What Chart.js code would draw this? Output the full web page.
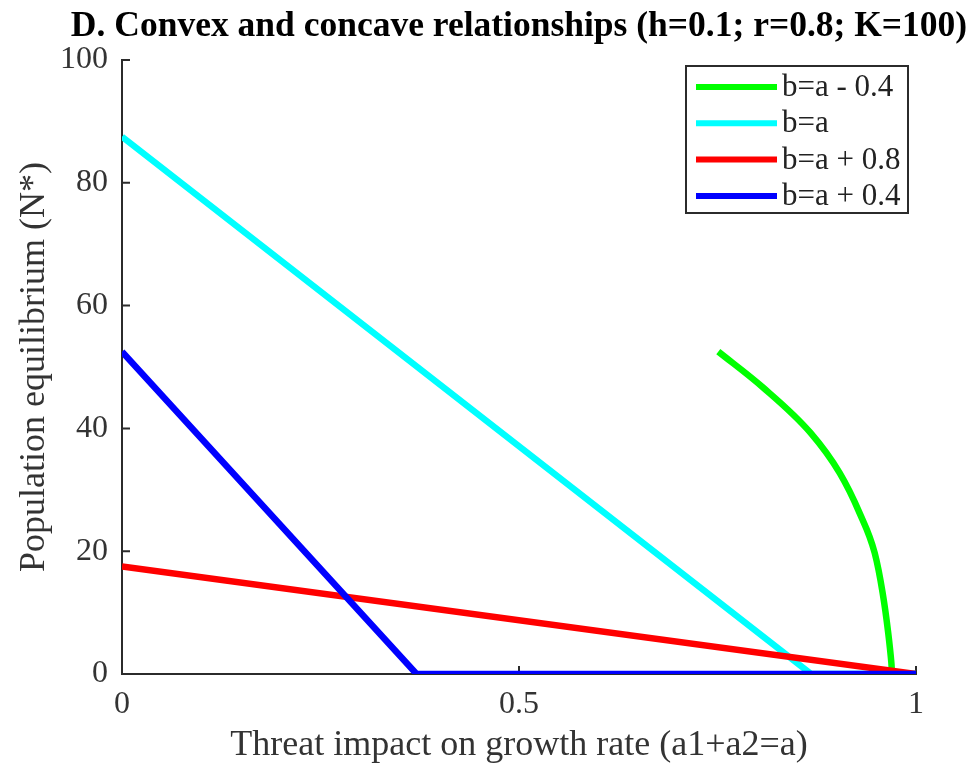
<!DOCTYPE html>
<html>
<head>
<meta charset="utf-8">
<title>Convex and concave relationships</title>
<script src="https://cdn.jsdelivr.net/npm/chart.js@4.4.1/dist/chart.umd.min.js"></script>
<style>
  html, body { margin: 0; padding: 0; background: #fff; }
</style>
</head>
<body>
<canvas id="equilibriumChart" width="972" height="771"></canvas>
<script>
// threat impact a (x) and population equilibrium N* (y) for each b curve
const greenA = [0.751, 0.807, 0.867, 0.904, 0.929, 0.948, 0.958, 0.965, 0.969, 0.970, 1.0];
const greenN = [52.5, 46.7, 39.3, 32.7, 26.2, 19.7, 13.2, 6.7, 1.8, 0, 0];

const cyanA = [0, 0.868, 1.0];
const cyanN = [87.5, 0, 0];

const redA = [0, 1.0];
const redN = [17.5, 0];

const blueA = [0, 0.371, 1.0];
const blueN = [52.5, 0, 0];

const seriesLabels = ['b=a - 0.4', 'b=a', 'b=a + 0.8', 'b=a + 0.4'];
const seriesColors = ['#00ff00', '#00ffff', '#ff0000', '#0000ff'];

const xTicks = [0, 0.5, 1];
const yTicks = [0, 20, 40, 60, 80, 100];

const TITLE = 'D. Convex and concave relationships (h=0.1; r=0.8; K=100)';
const FONT = '"Liberation Serif", "Times New Roman", serif';
const AXIS_COLOR = '#2b2b2b';
const TICK_LEN = 8;

function toPoints(xs, ys) {
  return xs.map((x, i) => ({ x: x, y: ys[i] }));
}

// title centred over the axes rather than the whole canvas
const axesTitle = {
  id: 'axesTitle',
  afterDraw(chart) {
    const { ctx, chartArea } = chart;
    ctx.save();
    ctx.font = 'bold 35.5px ' + FONT;
    ctx.fillStyle = '#000';
    ctx.textAlign = 'center';
    ctx.textBaseline = 'middle';
    ctx.fillText(TITLE, (chartArea.left + chartArea.right) / 2, 27);
    ctx.restore();
  }
};

// MATLAB-style ticks pointing into the plot
const inwardTicks = {
  id: 'inwardTicks',
  beforeDatasetsDraw(chart) {
    const { ctx, chartArea, scales } = chart;
    ctx.save();
    ctx.strokeStyle = AXIS_COLOR;
    ctx.lineWidth = 2;
    ctx.beginPath();
    yTicks.forEach(v => {
      const py = scales.y.getPixelForValue(v);
      ctx.moveTo(chartArea.left, py);
      ctx.lineTo(chartArea.left + TICK_LEN, py);
    });
    xTicks.forEach(v => {
      const px = scales.x.getPixelForValue(v);
      ctx.moveTo(px, chartArea.bottom);
      ctx.lineTo(px, chartArea.bottom - TICK_LEN);
    });
    ctx.stroke();
    ctx.restore();
  }
};

// boxed legend in the upper right corner
const boxLegend = {
  id: 'boxLegend',
  afterDraw(chart) {
    const { ctx, chartArea } = chart;
    const w = 222, h = 147, rowH = 36.3;
    const left = chartArea.right - 8 - w;
    const top = chartArea.top + 6;
    ctx.save();
    ctx.fillStyle = '#fff';
    ctx.fillRect(left, top, w, h);
    ctx.strokeStyle = AXIS_COLOR;
    ctx.lineWidth = 2;
    ctx.strokeRect(left, top, w, h);
    ctx.font = '31px ' + FONT;
    ctx.textBaseline = 'middle';
    ctx.fillStyle = '#222';
    chart.data.datasets.forEach((ds, i) => {
      const cy = top + 21 + i * rowH;
      ctx.strokeStyle = ds.borderColor;
      ctx.lineWidth = 6;
      ctx.beginPath();
      ctx.moveTo(left + 10, cy);
      ctx.lineTo(left + 91, cy);
      ctx.stroke();
      ctx.fillText(ds.label, left + 96, cy + 1);
    });
    ctx.restore();
  }
};

const allSeries = [
  toPoints(greenA, greenN),
  toPoints(cyanA, cyanN),
  toPoints(redA, redN),
  toPoints(blueA, blueN)
];

// higher order is drawn first, so blue ends up on top
const drawOrder = [3, 2, 1, 0];

const datasets = allSeries.map((pts, i) => ({
  label: seriesLabels[i],
  data: pts,
  borderColor: seriesColors[i],
  backgroundColor: seriesColors[i],
  borderWidth: 6.5,
  pointRadius: 0,
  cubicInterpolationMode: i === 0 ? 'monotone' : 'default',
  tension: 0,
  fill: false,
  order: drawOrder[i]
}));

new Chart(document.getElementById('equilibriumChart'), {
  type: 'line',
  data: { datasets: datasets },
  options: {
    responsive: false,
    animation: false,
    layout: { padding: { left: 0, right: 56, top: 60, bottom: 0 } },
    plugins: {
      legend: { display: false },
      tooltip: { enabled: false },
      title: { display: false }
    },
    scales: {
      x: {
        type: 'linear',
        min: 0,
        max: 1,
        afterFit(scale) { scale.height = 97; },
        afterBuildTicks(scale) { scale.ticks = xTicks.map(v => ({ value: v })); },
        grid: { display: true, drawOnChartArea: false, drawTicks: false },
        border: { display: true, color: AXIS_COLOR, width: 2 },
        ticks: {
          padding: 11,
          color: '#333',
          font: { family: FONT, size: 32 },
          maxRotation: 0,
          callback: v => String(v)
        },
        title: {
          display: true,
          text: 'Threat impact on growth rate (a1+a2=a)',
          color: '#333',
          font: { family: FONT, size: 36 },
          padding: { top: 0, bottom: 4 }
        }
      },
      y: {
        type: 'linear',
        min: 0,
        max: 100,
        afterFit(scale) { scale.width = 122; },
        afterBuildTicks(scale) { scale.ticks = yTicks.map(v => ({ value: v })); },
        grid: { display: true, drawOnChartArea: false, drawTicks: false },
        border: { display: true, color: AXIS_COLOR, width: 2 },
        ticks: {
          padding: 14,
          color: '#333',
          font: { family: FONT, size: 32 },
          callback: v => String(v)
        },
        title: {
          display: true,
          text: 'Population equilibrium (N*)',
          color: '#333',
          font: { family: FONT, size: 36 },
          padding: { top: 13, bottom: 0 }
        }
      }
    }
  },
  plugins: [inwardTicks, boxLegend, axesTitle]
});
</script>
</body>
</html>
